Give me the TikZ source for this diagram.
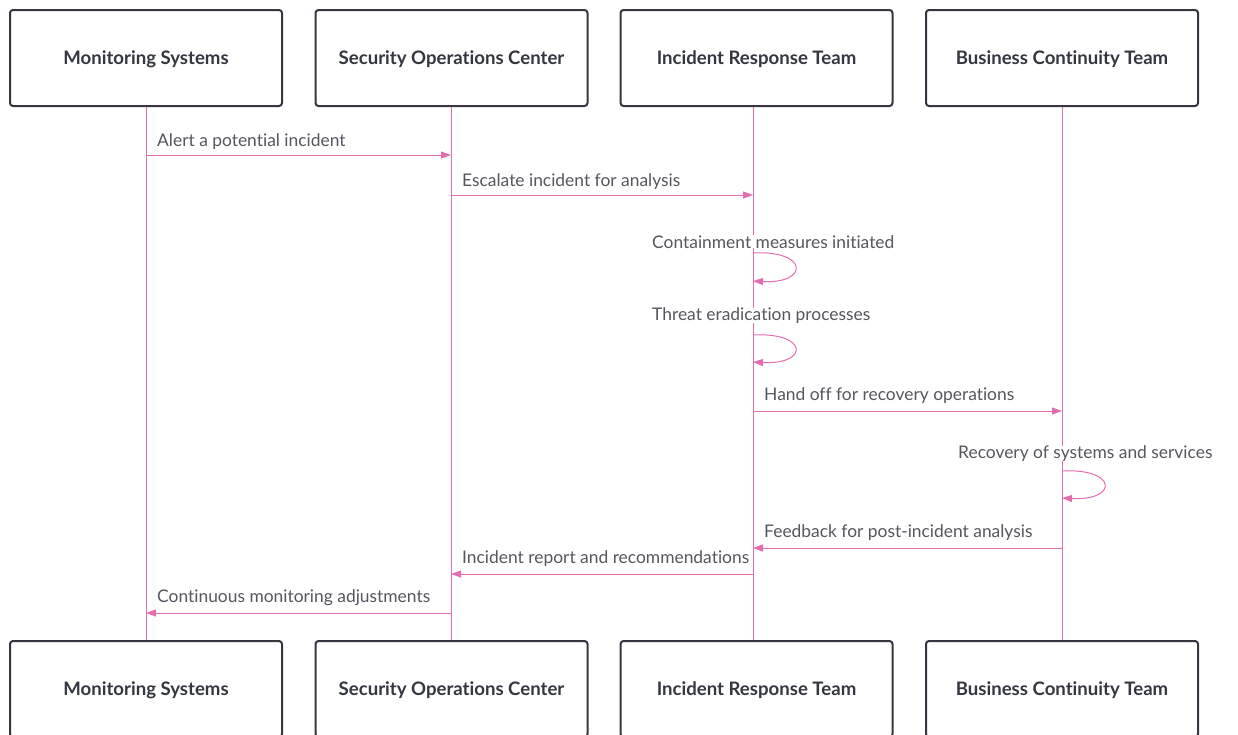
\documentclass[tikz,border=0pt]{standalone}
\usepackage{fontspec}
\setmainfont{Lato}[Ligatures={NoCommon}]
\usetikzlibrary{arrows.meta}
\definecolor{pinkline}{RGB}{230,108,176}
\definecolor{boxborder}{RGB}{52,55,64}
\definecolor{msgtext}{RGB}{85,86,95}
\tikzset{
  actor/.style={draw=boxborder, line width=2pt, rounded corners=3pt, fill=white,
    minimum width=272pt, minimum height=96pt, inner sep=0pt, text height=13pt, text depth=0pt,
    font=\fontsize{18.6}{21}\selectfont\bfseries, text=boxborder},
  life/.style={draw=pinkline, line width=1pt},
  msg/.style={draw=pinkline, line width=1pt, -{Triangle[length=10pt,width=7pt]}},
  msglabel/.style={anchor=south west, inner sep=0pt, fill=white, text=msgtext,
    font=\fontsize{17.4}{21}\selectfont},
}
\begin{document}
\begin{tikzpicture}[x=1pt,y=-1pt]
\useasboundingbox (0,0) rectangle (1238,734);
% top actors
\node[actor] (t1) at (146,58) {Monitoring Systems};
\node[actor] (t2) at (451.5,58) {Security Operations Center};
\node[actor] (t3) at (756.5,58) {Incident Response Team};
\node[actor] (t4) at (1062,58) {Business Continuity Team};
% bottom actors
\node[actor] (b1) at (146,689) {Monitoring Systems};
\node[actor] (b2) at (451.5,689) {Security Operations Center};
\node[actor] (b3) at (756.5,689) {Incident Response Team};
\node[actor] (b4) at (1062,689) {Business Continuity Team};
% lifelines
\coordinate (l1t) at (146,107); \coordinate (l1b) at (146,640);
\coordinate (l2t) at (451,107); \coordinate (l2b) at (451,640);
\coordinate (l3t) at (753,107); \coordinate (l3b) at (753,640);
\coordinate (l4t) at (1062,107); \coordinate (l4b) at (1062,640);
\draw[life] (l1t) -- (l1b);
\draw[life] (l2t) -- (l2b);
\draw[life] (l3t) -- (l3b);
\draw[life] (l4t) -- (l4b);
% messages
\draw[msg] (l1t |- 0,155) -- (l2t |- 0,155);
\node[msglabel] (m1) at (157,149.5) {Alert a potential incident};
\draw[msg] (l2t |- 0,195) -- (l3t |- 0,195);
\node[msglabel] (m2) at (462,189.5) {Escalate incident for analysis};
% self loop 1
\node[msglabel] (m3) at (652,248.5) {Containment measures initiated};
\draw[msg] (l3t |- 0,253) .. controls (809,250) and (809,284) .. (l3t |- 0,281);
% self loop 2
\node[msglabel] (m4) at (652,323.5) {Threat eradication processes};
\draw[msg] (l3t |- 0,335) .. controls (809,332) and (809,365) .. (l3t |- 0,362);
\draw[msg] (l3t |- 0,411) -- (l4t |- 0,411);
\node[msglabel] (m5) at (764,403.5) {Hand off for recovery operations};
% self loop 3
\node[msglabel] (m6) at (958,461.5) {Recovery of systems and services};
\draw[msg] (l4t |- 0,471) .. controls (1118,468) and (1118,501) .. (l4t |- 0,498);
\draw[msg] (l4t |- 0,548) -- (l3t |- 0,548);
\node[msglabel] (m7) at (764,540.5) {Feedback for post-incident analysis};
\draw[msg] (l3t |- 0,574) -- (l2t |- 0,574);
\node[msglabel] (m8) at (462,566.5) {Incident report and recommendations};
\draw[msg] (l2t |- 0,613) -- (l1t |- 0,613);
\node[msglabel] (m9) at (157,605.5) {Continuous monitoring adjustments};
\end{tikzpicture}
\end{document}
